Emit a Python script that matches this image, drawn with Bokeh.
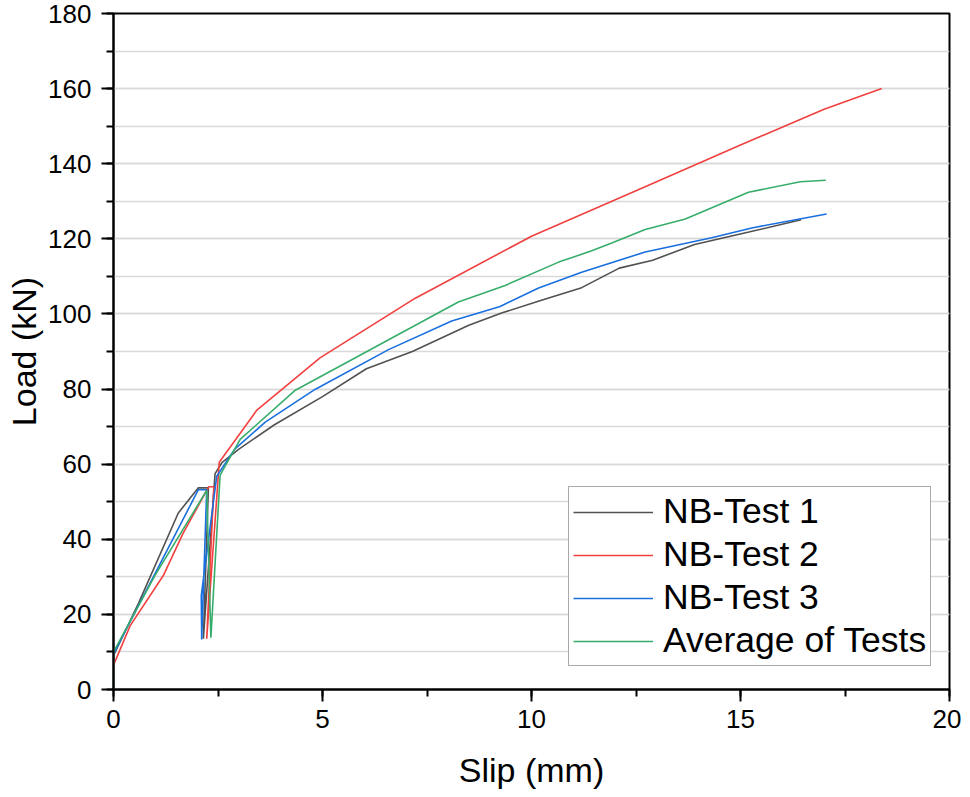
from bokeh.plotting import figure
from bokeh.models import Range1d, SingleIntervalTicker
from bokeh.embed import file_html
from bokeh.resources import INLINE

# NB-Test 1
t1_slip = [0, 0, 0.6, 1.55, 2.03, 2.27, 2.15, 2.43, 2.6, 3.0, 3.85, 5.0, 6.05, 7.15, 8.5, 9.3, 10.2, 11.2, 12.1, 12.9, 13.9, 15.2, 16.45]
t1_load = [0, 9, 23, 47, 53.7, 53.7, 13.5, 57.5, 60.5, 64, 70.5, 78, 85.4, 90, 97, 100.3, 103.5, 107, 112.2, 114.3, 118.5, 121.8, 125.1]

# NB-Test 2
t2_slip = [0, 0, 0.4, 1.2, 1.67, 2.28, 2.4, 2.23, 2.53, 3.43, 4.94, 7.22, 10.0, 12.5, 15.0, 17.0, 18.38]
t2_load = [0, 6.5, 17, 30.5, 41.7, 54, 54, 13.5, 60.5, 74.4, 88.3, 104.2, 120.7, 132.8, 145, 154.5, 160]

# NB-Test 3
t3_slip = [0, 0, 1.0, 2.03, 2.23, 2.11, 2.1, 2.47, 2.9, 3.63, 4.82, 6.58, 8.09, 9.25, 10.17, 11.2, 12.72, 14.31, 15.27, 17.06]
t3_load = [0, 9.5, 31, 53.2, 53.2, 13.3, 25, 56.8, 64, 71.2, 79.9, 90.5, 98.1, 102.0, 106.9, 111.1, 116.5, 120.3, 122.9, 126.6]

# Average of Tests
avg_slip = [0, 0, 1.0, 2.23, 2.33, 2.55, 2.67, 3.03, 4.35, 8.25, 9.37, 10.65, 11.44, 11.92, 12.72, 13.68, 15.19, 16.43, 17.04]
avg_load = [0, 10, 30.5, 53, 13.8, 57, 59.5, 66.6, 79.7, 103.2, 107.6, 113.8, 116.8, 118.9, 122.5, 125.3, 132.4, 135.2, 135.6]

series = [
    ("NB-Test 1", t1_slip, t1_load, "#515151"),
    ("NB-Test 2", t2_slip, t2_load, "#F14040"),
    ("NB-Test 3", t3_slip, t3_load, "#1A6FDF"),
    ("Average of Tests", avg_slip, avg_load, "#37AD6B"),
]

FONT = "Liberation Sans"

p = figure(frame_width=836, frame_height=676,
           x_range=Range1d(0, 20), y_range=Range1d(0, 180),
           output_backend="svg", toolbar_location=None,
           min_border_left=113, min_border_right=12,
           min_border_top=13, min_border_bottom=104,
           background_fill_color="white", border_fill_color="white")

for name, xs, ys, col in series:
    p.line(xs, ys, line_color=col, line_width=1.6, legend_label=name)

p.xaxis.ticker = SingleIntervalTicker(interval=5, num_minor_ticks=2)
p.yaxis.ticker = SingleIntervalTicker(interval=20, num_minor_ticks=2)

p.xgrid.visible = False
p.ygrid.grid_line_color = "#d9d9d9"
p.ygrid.grid_line_width = 1.5
p.ygrid.minor_grid_line_color = "#d9d9d9"
p.ygrid.minor_grid_line_width = 1.5

p.outline_line_color = "black"
p.outline_line_width = 2
p.outline_line_alpha = 1

for ax in (p.xaxis[0], p.yaxis[0]):
    ax.axis_line_width = 2
    ax.axis_line_color = "black"
    ax.major_tick_line_width = 2
    ax.minor_tick_line_width = 2
    ax.major_tick_line_color = "black"
    ax.minor_tick_line_color = "black"
    ax.major_tick_out = 12
    ax.major_tick_in = 0
    ax.minor_tick_out = 7
    ax.minor_tick_in = 0
    ax.major_label_text_font = FONT
    ax.major_label_text_font_size = "26px"
    ax.major_label_text_color = "black"
    ax.axis_label_text_font = FONT
    ax.axis_label_text_font_size = "34px"
    ax.axis_label_text_font_style = "normal"
    ax.axis_label_text_color = "black"

p.xaxis.axis_label = "Slip (mm)"
p.yaxis.axis_label = "Load (kN)"
p.xaxis.major_label_standoff = 8
p.xaxis.axis_label_standoff = 20
p.yaxis.major_label_standoff = 10
p.yaxis.axis_label_standoff = 2

lg = p.legend[0]
lg.location = (455, 23)
lg.margin = 0
lg.padding = 4
lg.spacing = 2
lg.glyph_width = 80
lg.glyph_height = 30
lg.label_standoff = 10
lg.label_text_font = FONT
lg.label_text_font_size = "35.5px"
lg.label_text_color = "black"
lg.border_line_color = "#555555"
lg.border_line_width = 1.2
lg.background_fill_color = "white"
lg.background_fill_alpha = 1

open("out.html", "w").write(file_html(p, INLINE))
